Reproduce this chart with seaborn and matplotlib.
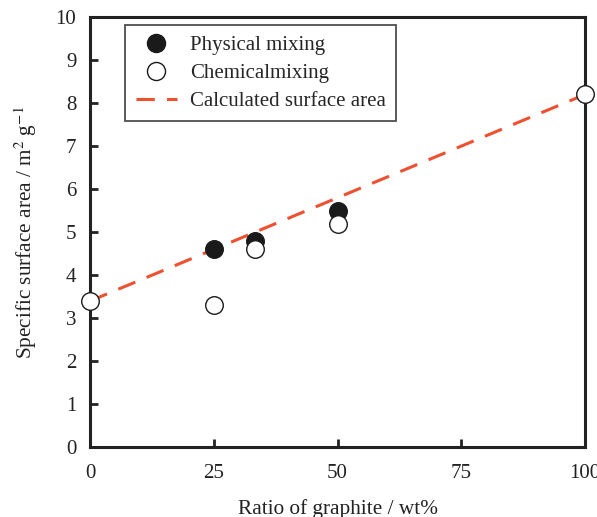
import matplotlib
matplotlib.use("Agg")
import matplotlib.pyplot as plt
import seaborn as sns
import pandas as pd
from matplotlib.lines import Line2D

sns.set_style("ticks")
plt.rcParams['font.family'] = ['Liberation Serif', 'DejaVu Serif']
plt.rcParams['mathtext.fontset'] = 'stix'

phys_x = [25, 33.3, 50]
phys_y = [4.6, 4.8, 5.5]
chem_x = [0, 25, 33.3, 50, 100]
chem_y = [3.4, 3.3, 4.6, 5.2, 8.2]
calc_x = [0, 100]
calc_y = [3.4, 8.2]

x_ticks = [0, 25, 50, 75, 100]
y_ticks = list(range(0, 11))

fig = plt.figure(figsize=(5.97, 5.17), dpi=100)
ax = fig.add_axes([0.151, 0.135, 0.829, 0.832])

line_color = '#EE5030'
calc_df = pd.DataFrame({'x': calc_x, 'y': calc_y})
sns.lineplot(data=calc_df, x='x', y='y', ax=ax, color=line_color, lw=2.2,
             dashes=False, zorder=2, clip_on=False)
ax.lines[-1].set_dashes([6, 4])

phys_df = pd.DataFrame({'x': phys_x, 'y': phys_y})
chem_df = pd.DataFrame({'x': chem_x, 'y': chem_y})
sns.scatterplot(data=phys_df, x='x', y='y', ax=ax, s=160, color='#1a1a1a',
                edgecolor='#1a1a1a', linewidth=1, zorder=3, clip_on=False)
sns.scatterplot(data=chem_df, x='x', y='y', ax=ax, s=160, color='white',
                edgecolor='#1a1a1a', linewidth=1, zorder=4, clip_on=False)

ax.set_xlim(0, 100)
ax.set_ylim(0, 10)
ax.set_xticks(x_ticks)
ax.set_yticks(y_ticks)
ax.tick_params(direction='in', length=6, width=2, labelsize=15, colors='#222222',
               pad=10)
ax.tick_params(axis='x', pad=12)
for side in ['left', 'bottom', 'right', 'top']:
    ax.spines[side].set_linewidth(2.2)
    ax.spines[side].set_color('#222222')
    ax.spines[side].set_visible(True)

ax.set_xlabel('Ratio of graphite / wt%', fontsize=15.3, labelpad=12, color='#222222')
ax.set_ylabel('Specific surface area / m$^2$ g$^{-1}$', fontsize=15.3, labelpad=12,
              color='#222222')

handles = [
    Line2D([], [], marker='o', ls='none', markersize=13, markerfacecolor='#1a1a1a',
           markeredgecolor='#1a1a1a'),
    Line2D([], [], marker='o', ls='none', markersize=13, markerfacecolor='white',
           markeredgecolor='#1a1a1a'),
    Line2D([], [], color=line_color, lw=2.2, dashes=[6, 4]),
]
labels = ['Physical mixing', 'Chemicalmixing', 'Calculated surface area']
leg = ax.legend(handles, labels, loc='upper left', bbox_to_anchor=(0.0707, 0.981),
                borderaxespad=0, fontsize=15, frameon=True, fancybox=False,
                edgecolor='#222222', handlelength=2.0, borderpad=0.5,
                labelspacing=0.4, handletextpad=0.6)
leg.get_frame().set_linewidth(1.3)

fig.savefig('out.png', dpi=100)
